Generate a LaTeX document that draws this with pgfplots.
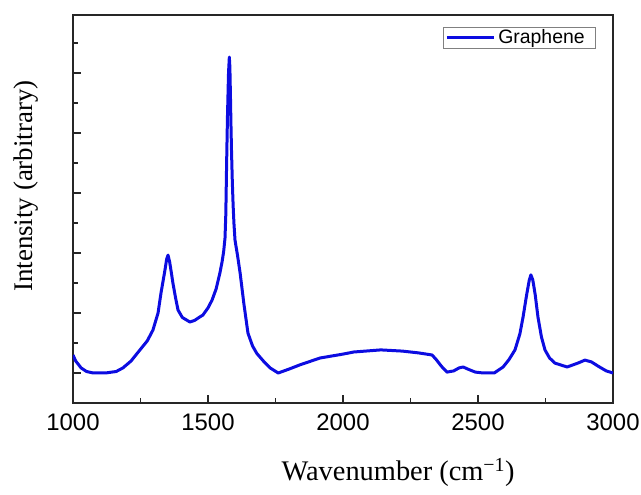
\documentclass[border=0pt]{standalone}
\usepackage{pgfplots}
\pgfplotsset{compat=1.18}
\usepackage{fontspec}
\setmainfont{Liberation Serif}
\newfontfamily\sansf{Liberation Sans}
\definecolor{specblue}{RGB}{12,12,225}
\begin{document}
\begin{tikzpicture}
\begin{axis}[
  scale only axis,
  width=540bp, height=388bp,
  xmin=1000, xmax=3000,
  ymin=0, ymax=12.933,
  axis line style={line width=1.5bp, black!85},
  every tick/.style={black!85, line width=1.2bp},
  xtick={1000,1500,2000,2500,3000},
  minor xtick={1250,1750,2250,2750},
  ytick={1,3,5,7,9,11},
  minor ytick={2,4,6,8,10,12},
  yticklabels={},
  tick align=inside,
  xtick pos=bottom, ytick pos=left,
  major tick length=8bp, minor tick length=5bp,
  /pgf/number format/assume math mode=true,
  /pgf/number format/1000 sep={},
  xticklabel style={font=\sansf\fontsize{24}{24}\selectfont, inner sep=0pt, anchor=north, yshift=-11bp},
  xlabel={Wavenumber (cm\textsuperscript{−1})},
  xlabel style={font=\fontsize{28.5}{30}\selectfont, at={(axis description cs:0.602,0)}, anchor=base, yshift=-77bp},
  ylabel={Intensity (arbitrary)},
  ylabel style={font=\fontsize{27}{30}\selectfont, at={(axis description cs:0,0.559)}, anchor=base, yshift=40bp},
  legend style={at={(rel axis cs:1,1)}, anchor=north east, xshift=-17bp, yshift=-12bp,
    draw=black!50, line width=0.6bp, font=\sansf\fontsize{19.5}{20}\selectfont,
    inner xsep=2bp, inner ysep=0.5bp, nodes={inner xsep=3bp, inner ysep=2bp}},
  legend cell align=left,
  legend image code/.code={\draw[#1] (0bp,0bp) -- (47bp,0bp);},
  clip mode=individual,
]
\addplot[specblue, line width=3bp, line join=round] coordinates {
(1000,1.60) (1010,1.40) (1030,1.17) (1050,1.05) (1075,1.00) (1120,1.00)
(1160,1.05) (1185,1.17) (1215,1.40) (1248,1.77) (1275,2.07) (1296,2.43)
(1315,3.00) (1326,3.67) (1340,4.40) (1347,4.80) (1352,4.93) (1358,4.70)
(1365,4.30) (1370,4.00) (1380,3.50) (1389,3.10) (1405,2.85) (1433,2.70)
(1450,2.75) (1470,2.87) (1481,2.93) (1500,3.17) (1515,3.43) (1530,3.80)
(1544,4.33) (1552,4.70) (1558,5.05) (1563,5.50) (1566,6.30) (1569,8.00)
(1572,9.50) (1576,11.00) (1579,11.53) (1581,11.20) (1583,10.30) (1585,9.30)
(1587,8.43) (1590,7.40) (1593,6.60) (1596,6.00) (1600,5.43) (1610,4.88)
(1619,4.33) (1633,3.30) (1648,2.33) (1665,1.90) (1681,1.65)
(1705,1.40) (1730,1.17) (1760,1.00) (1800,1.13) (1840,1.27) (1915,1.50)
(2000,1.63) (2040,1.70) (2140,1.77) (2220,1.73) (2280,1.67) (2330,1.60)
(2345,1.45) (2365,1.22) (2385,1.03) (2410,1.07) (2430,1.17) (2445,1.20)
(2465,1.12) (2490,1.03) (2520,1.00) (2560,1.00) (2593,1.20) (2615,1.45)
(2637,1.77) (2655,2.30) (2667,2.87) (2680,3.60) (2690,4.10) (2696,4.27)
(2703,4.10) (2712,3.60) (2722,2.87) (2735,2.20) (2748,1.77) (2765,1.50)
(2785,1.33) (2830,1.20) (2870,1.33) (2896,1.43) (2920,1.37) (2950,1.20)
(2975,1.07) (3000,1.00)
};
\addlegendentry{Graphene\kern6bp}
\path (rel axis cs:0,0) ++(-73bp,-92bp) coordinate (bbsw);
\path (rel axis cs:1,1) ++(28bp,15bp) coordinate (bbne);
\end{axis}
\path (bbsw) (bbne);
\end{tikzpicture}
\end{document}
